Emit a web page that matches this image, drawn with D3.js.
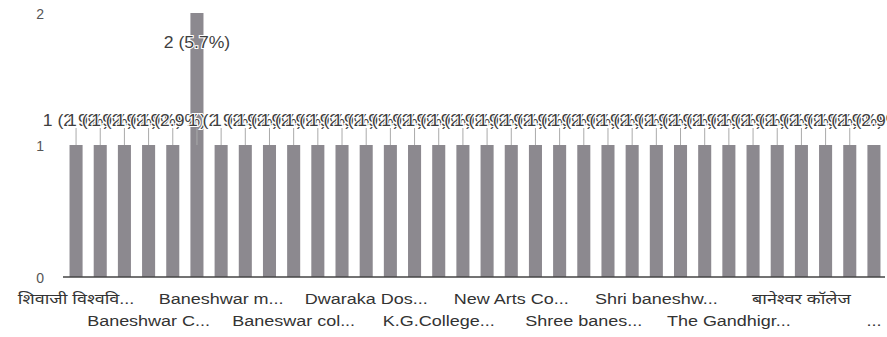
<!DOCTYPE html>
<html>
<head>
<meta charset="utf-8">
<script src="https://cdn.jsdelivr.net/npm/d3@7"></script>
<style>
  html, body { margin: 0; padding: 0; background: #fff; }
  svg { display: block; }
  text { font-family: "Liberation Sans", Arial, "Noto Sans", sans-serif; }
</style>
</head>
<body>
<svg id="chart" width="887" height="337"></svg>
<script>
// ---- data ----
const categories = [
  "शिवाजी विश्वविद्यालय", "Ahmednagar College", "B.P.H.E. Society", "Baneshwar College",
  "Baneshwar College Pathardi", "Baneshwar college", "Baneshwar mahavidyalaya",
  "Baneshwar Mahavidyalaya Burhannagar", "Baneshwar Mahavidyalay", "Baneswar college",
  "Burhannagar College", "Dr. B.A.M.U.", "Dwaraka Doss Goverdhan Doss Vaishnav College",
  "Guru Nanak College", "J.J.T. University", "K.G.College of Arts", "Mahatma Phule College",
  "New Arts College", "New Arts Commerce and Science College", "Pune University", "S.P.P.U.",
  "Shree baneshwar college", "Shree Baneshwar Mahavidyalaya", "Shri Baneshwar College",
  "Shri baneshwar mahavidyalaya", "Shri Shivaji College", "Savitribai Phule Pune University",
  "The Gandhigram Rural Institute", "University of Pune", "Vidya Pratishthan",
  "बानेश्वर कॉलेज", "बानेश्वर महाविद्यालय", "बाणेश्वर महाविद्यालय", "…………………………"
];
const values = [1,1,1,1,1,2,1,1,1,1,1,1,1,1,1,1,1,1,1,1,1,1,1,1,1,1,1,1,1,1,1,1,1,1];
// tick labels shown on the x axis (every third category)
const tickIndex = [0,3,6,9,12,15,18,21,24,27,30,33];
const tickLabels = [
  "शिवाजी विश्ववि...", "Baneshwar C...", "Baneshwar m...", "Baneswar col...",
  "Dwaraka Dos...", "K.G.College...", "New Arts Co...", "Shree banes...",
  "Shri baneshw...", "The Gandhigr...", "बानेश्वर कॉलेज", "..."
];
const yTicks = [0, 1, 2];

// ---- layout ----
const svg = d3.select("#chart");
const total = d3.sum(values);
const x = d3.scaleBand().domain(d3.range(categories.length))
  .range([63, 887]).paddingInner(0.46).paddingOuter(0.27);
const y = d3.scaleLinear().domain([0, 2]).range([277, 13]);

// y tick labels
svg.append("g").selectAll("text").data(yTicks).join("text")
  .attr("x", 44).attr("y", d => y(d) + 1).attr("dy", "0.35em")
  .attr("text-anchor", "end").attr("font-size", 14).attr("fill", "#555")
  .text(d => d);

// bars
svg.append("g").selectAll("rect").data(values).join("rect")
  .attr("x", (d, i) => x(i)).attr("width", x.bandwidth())
  .attr("y", d => y(d)).attr("height", d => y(0) - y(d))
  .attr("fill", "#8c898f");

// axis line
svg.append("line").attr("x1", 63).attr("x2", 885)
  .attr("y1", y(0)).attr("y2", y(0))
  .attr("stroke", "#444").attr("stroke-width", 1.5);

// data labels with leader lines
function labelY(d) { return y(d) - 25 < 30 ? y(d) + 29 : y(d) - 25; }
const lab = svg.append("g").selectAll("g").data(values).join("g");
lab.filter(d => y(d) - 25 >= 30).append("line")
  .attr("x1", (d, i) => x(i) + x.bandwidth() / 2)
  .attr("x2", (d, i) => x(i) + x.bandwidth() / 2)
  .attr("y1", d => labelY(d) + 8).attr("y2", d => y(d))
  .attr("stroke", "#aaa").attr("stroke-width", 1);
lab.append("text")
  .attr("transform", (d, i) => `translate(${x(i) + x.bandwidth() / 2},${labelY(d)}) scale(1.1,1)`)
  .attr("dy", "0.35em").attr("text-anchor", "middle")
  .attr("font-size", 16).attr("fill", "#3f3f3f")
  .attr("stroke", "#fff").attr("stroke-width", 2).attr("paint-order", "stroke")
  .text(d => `${d} (${(d / total * 100).toFixed(1)}%)`);

// x tick labels
svg.append("g").selectAll("text").data(tickIndex).join("text")
  .attr("transform", (d, k) => `translate(${x(d) + x.bandwidth() / 2},${k % 2 === 0 ? 299 : 321}) scale(1.2,1)`)
  .attr("dy", "0.35em").attr("text-anchor", "middle")
  .attr("font-size", 15).attr("fill", "#333")
  .text((d, k) => tickLabels[k]);
</script>
</body>
</html>
